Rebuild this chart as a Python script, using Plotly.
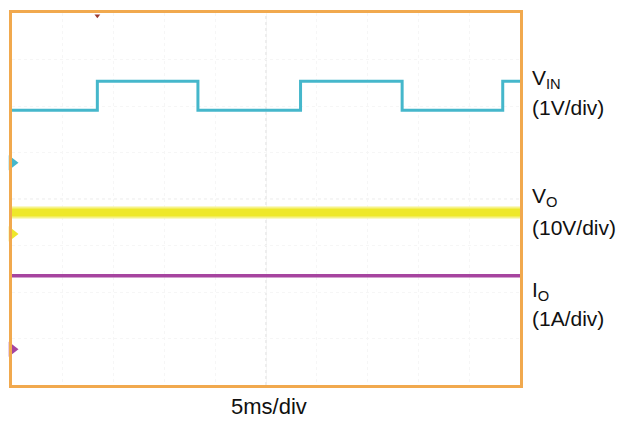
import plotly.graph_objects as go

# ---- data (time in ms, values in channel units) ----
vin_edges_ms = [0.0, 8.4, 18.3, 28.4, 38.4, 48.3, 50.0]
vin_levels_v = [1.13, 1.75, 1.13, 1.75, 1.13, 1.75]   # level after each edge
vo_t_ms = [0.0, 50.0]
vo_v = [4.6, 4.6]
io_t_ms = [0.0, 50.0]
io_a = [1.58, 1.58]

time_per_div = 5.0
n_xdiv = 10
n_ydiv = 8

# channel scale (units/div) and ground position (div from bottom)
ch = {
    "VIN": dict(scale=1.0, gnd=4.78, color="#45B7CB"),
    "VO": dict(scale=10.0, gnd=3.25, color="#EEE82A"),
    "IO": dict(scale=1.0, gnd=0.77, color="#A6449F"),
}

def to_div(vals, c):
    return [ch[c]["gnd"] + v / ch[c]["scale"] for v in vals]

# build square wave for VIN
vx, vy = [], []
for i, lvl in enumerate(vin_levels_v):
    vx += [vin_edges_ms[i], vin_edges_ms[i + 1]]
    vy += [lvl, lvl]

fig = go.Figure()

fig.add_trace(go.Scatter(x=vo_t_ms, y=to_div(vo_v, "VO"), mode="lines",
                         line=dict(color="#F6F38A", width=12), hoverinfo="skip"))
fig.add_trace(go.Scatter(x=vo_t_ms, y=to_div(vo_v, "VO"), mode="lines",
                         line=dict(color=ch["VO"]["color"], width=8), hoverinfo="skip"))
fig.add_trace(go.Scatter(x=vx, y=to_div(vy, "VIN"), mode="lines",
                         line=dict(color=ch["VIN"]["color"], width=3), hoverinfo="skip"))
fig.add_trace(go.Scatter(x=io_t_ms, y=to_div(io_a, "IO"), mode="lines",
                         line=dict(color=ch["IO"]["color"], width=3.5), hoverinfo="skip"))

# ground markers
for c in ["VIN", "VO", "IO"]:
    fig.add_trace(go.Scatter(x=[0.0], y=[ch[c]["gnd"]], mode="markers",
                             marker=dict(symbol="triangle-right", size=13,
                                         color=ch[c]["color"]),
                             cliponaxis=False, hoverinfo="skip"))
# trigger marker
fig.add_trace(go.Scatter(x=[vin_edges_ms[1]], y=[n_ydiv - 0.06], mode="markers",
                         marker=dict(symbol="triangle-down", size=5, color="#9A3A30"),
                         cliponaxis=False, hoverinfo="skip"))

fig.update_xaxes(range=[0, n_xdiv * time_per_div], dtick=time_per_div,
                 showticklabels=False, ticks="", zeroline=False,
                 showgrid=True, gridcolor="#F6F6F6", griddash="dot", gridwidth=1,
                 showline=True, linecolor="#F1A94E", linewidth=3, mirror=True)
fig.update_yaxes(range=[0, n_ydiv], dtick=1,
                 showticklabels=False, ticks="", zeroline=False,
                 showgrid=True, gridcolor="#F6F6F6", griddash="dot", gridwidth=1,
                 showline=True, linecolor="#F1A94E", linewidth=3, mirror=True)

# center lines
fig.add_shape(type="line", x0=25, x1=25, y0=0, y1=8, xref="x", yref="y",
              line=dict(color="#DDDDDD", width=1, dash="dot"), layer="below")
fig.add_shape(type="line", x0=0, x1=50, y0=4, y1=4, xref="x", yref="y",
              line=dict(color="#EBEBEB", width=1, dash="dot"), layer="below")

font = dict(family="Liberation Sans, Arial, sans-serif", size=21, color="#111111")
labels = [
    ("V<sub>IN</sub>", 0.822),
    ("(1V/div)", 0.747),
    ("V<sub>O</sub>", 0.505),
    ("(10V/div)", 0.424),
    ("I<sub>O</sub>", 0.252),
    ("(1A/div)", 0.180),
]
for txt, yp in labels:
    fig.add_annotation(text=txt, x=1.020, y=yp, xref="paper", yref="paper",
                       xanchor="left", yanchor="middle", showarrow=False, font=font)
fig.add_annotation(text="5ms/div", x=0.506, y=-0.058, xref="paper", yref="paper",
                   xanchor="center", yanchor="middle", showarrow=False,
                   font=dict(family=font["family"], size=22, color="#111111"))

fig.update_layout(width=634, height=422, margin=dict(l=12, r=114, t=10, b=37),
                  paper_bgcolor="white", plot_bgcolor="white", showlegend=False)

fig.write_html("out.html")
